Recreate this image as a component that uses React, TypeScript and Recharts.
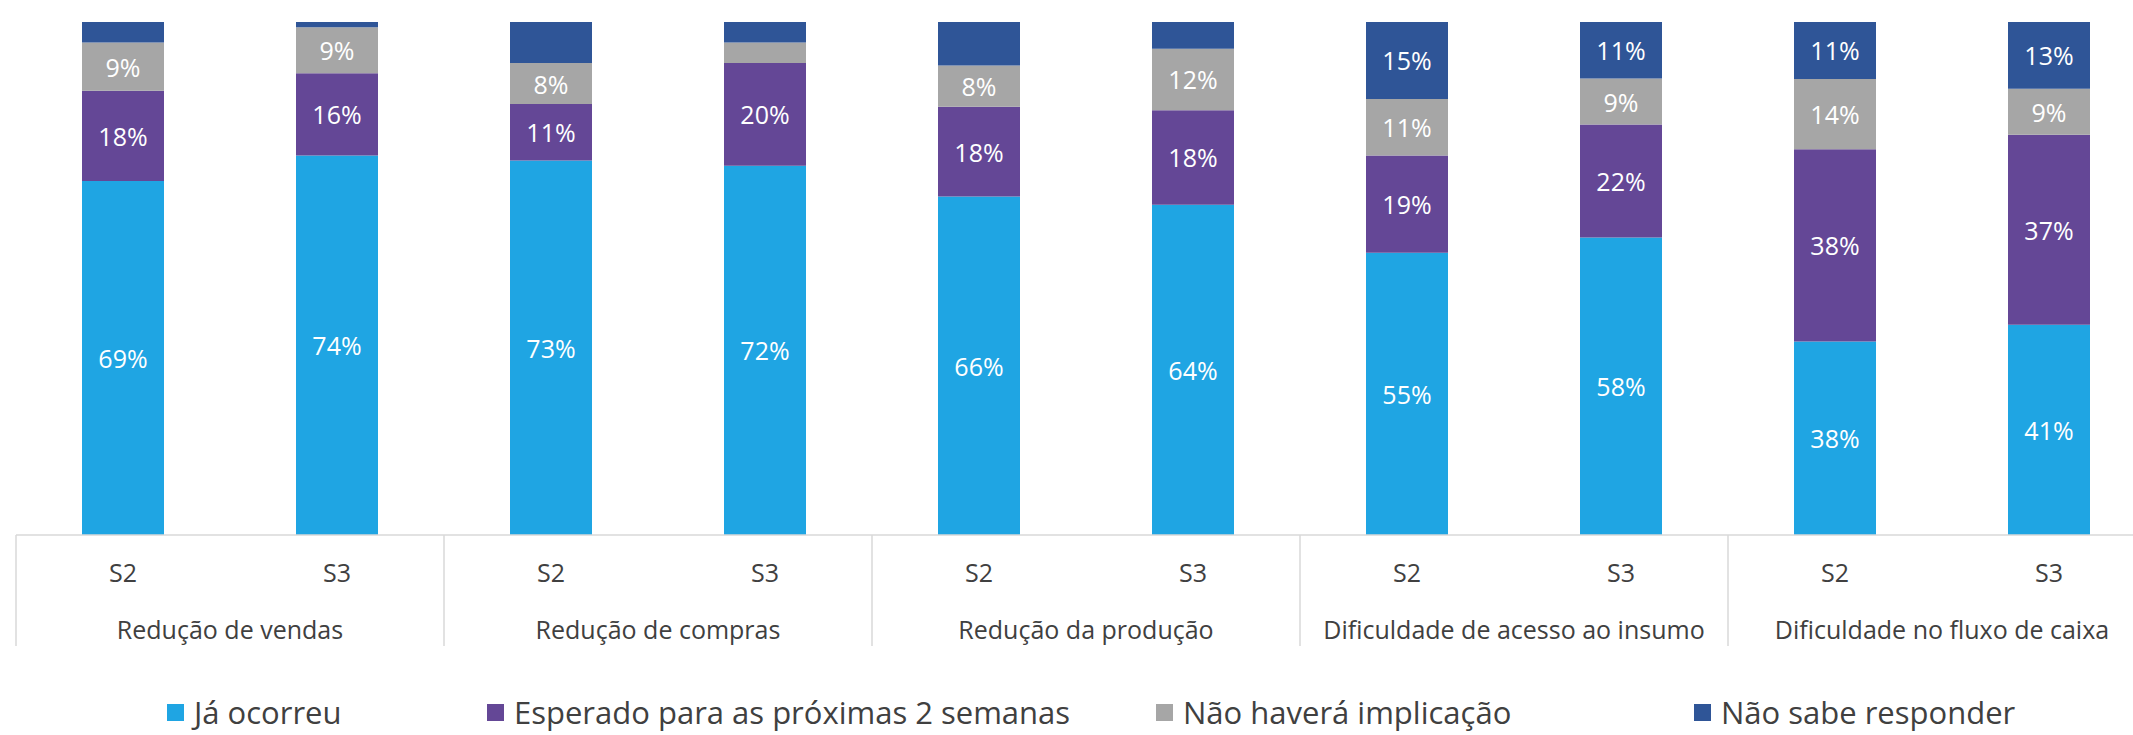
import { Bar, BarChart, LabelList, Legend, XAxis, YAxis } from "recharts"

// categorias (dois níveis) e valores, em %
const grupos = [
  "Redução de vendas",
  "Redução de compras",
  "Redução da produção",
  "Dificuldade de acesso ao insumo",
  "Dificuldade no fluxo de caixa",
]
const semanas = ["S2", "S3"]

const jaOcorreu = [69, 74, 73, 72, 66, 64.4, 55, 58, 37.7, 41]
const esperado = [17.6, 16, 11, 20, 17.5, 18.4, 19, 22, 37.5, 37]
const naoHavera = [9.4, 9, 8, 4, 8, 12, 11, 9, 13.7, 9]
const naoSabe = [4, 1, 8, 4, 8.5, 5.2, 15, 11, 11.1, 13]

// segmentos que não têm rótulo no original
const semRotulo: Record<string, number[]> = {
  naoHavera: [3],
  naoSabe: [0, 1, 2, 3, 4, 5],
}

const series = [
  { key: "ja", nome: "Já ocorreu", cor: "#1FA5E3" },
  { key: "esperado", nome: "Esperado para as próximas 2 semanas", cor: "#644796" },
  { key: "naoHavera", nome: "Não haverá implicação", cor: "#A6A6A6" },
  { key: "naoSabe", nome: "Não sabe responder", cor: "#2F5597" },
]

// posição horizontal de cada item da legenda (como no original, espaçamento irregular)
const legendaX = [167, 487, 1156, 1694]

const dados = grupos.flatMap((grupo, gi) =>
  semanas.map((semana, si) => {
    const i = gi * semanas.length + si
    return {
      chave: `${grupo}|${semana}`,
      grupo,
      semana,
      ja: jaOcorreu[i],
      esperado: esperado[i],
      naoHavera: naoHavera[i],
      naoSabe: naoSabe[i],
    }
  })
)

const WIDTH = 2160
const HEIGHT = 735
const MARGIN = { top: 22, right: 4, left: 16, bottom: 0 }
const BAND = (WIDTH - MARGIN.left - MARGIN.right) / dados.length
const FONT = "'Open Sans', 'Noto Sans', sans-serif"
const TEXTO = "#404040"
const GRADE = "#D9D9D9"

const CategoriaTick = (props: any) => {
  const { x, y, index } = props
  const item = dados[index]
  if (!item) return null
  const primeiro = index % semanas.length === 0
  return (
    <g>
      <text x={x} y={y + 47} textAnchor="middle" fontSize={25} fill={TEXTO} fontFamily={FONT}>
        {item.semana}
      </text>
      {primeiro && (
        <>
          <text x={x + BAND / 2} y={y + 104} textAnchor="middle" fontSize={25} fill={TEXTO} fontFamily={FONT}>
            {item.grupo}
          </text>
          <line x1={x - BAND / 2} x2={x - BAND / 2} y1={y} y2={y + 111} stroke={GRADE} strokeWidth={1.5} />
        </>
      )}
      {index === dados.length - 1 && (
        <line x1={x + BAND / 2} x2={x + BAND / 2} y1={y} y2={y + 111} stroke={GRADE} strokeWidth={1.5} />
      )}
    </g>
  )
}

const rotulo = (serieKey: string) => (props: any) => {
  const { x, y, width, height, value, index } = props
  if ((semRotulo[serieKey] || []).includes(index)) return null
  return (
    <text
      x={x + width / 2}
      y={y + height / 2}
      textAnchor="middle"
      dominantBaseline="central"
      fontSize={25}
      fill="#ffffff"
      fontFamily={FONT}
    >
      {`${Math.round(value)}%`}
    </text>
  )
}

const Legenda = () => (
  <div style={{ position: "relative", height: 88, fontFamily: FONT, fontSize: 31, color: TEXTO, lineHeight: 1 }}>
    {series.map((s, i) => (
      <div
        key={s.key}
        style={{
          position: "absolute",
          left: legendaX[i],
          top: 48,
          height: 34,
          display: "flex",
          alignItems: "center",
          gap: 10,
          whiteSpace: "nowrap",
        }}
      >
        <span style={{ width: 17, height: 17, background: s.cor, display: "inline-block" }} />
        <span>{s.nome}</span>
      </div>
    ))}
  </div>
)

export default function App() {
  return (
    <div style={{ position: "absolute", left: 0, top: 0, width: 2133, height: 735, overflow: "hidden", background: "#fff" }}>
      <BarChart width={WIDTH} height={HEIGHT} data={dados} margin={MARGIN} barSize={82}>
        <XAxis
          dataKey="chave"
          interval={0}
          height={112}
          tickLine={false}
          tickSize={0}
          tickMargin={0}
          axisLine={{ stroke: GRADE, strokeWidth: 1.5 }}
          tick={<CategoriaTick />}
        />
        <YAxis hide domain={[0, 100]} allowDataOverflow />
        <Legend
          verticalAlign="bottom"
          content={<Legenda />}
          wrapperStyle={{ left: 0, width: WIDTH }}
        />
        {series.map((s) => (
          <Bar key={s.key} dataKey={s.key} name={s.nome} stackId="a" fill={s.cor} isAnimationActive={false}>
            <LabelList dataKey={s.key} content={rotulo(s.key)} />
          </Bar>
        ))}
      </BarChart>
    </div>
  )
}
